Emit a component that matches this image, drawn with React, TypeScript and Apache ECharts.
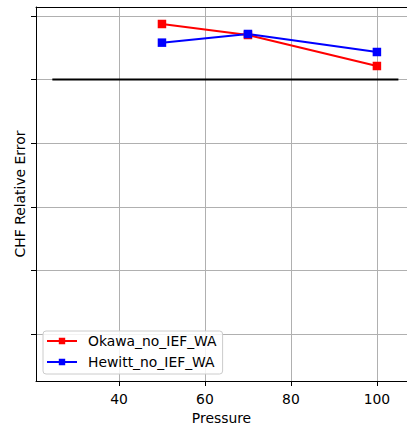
import React, { useEffect, useRef } from "react";
import * as echarts from "echarts";

const pressure = [50, 70, 100];
const okawa = [0.0873, 0.070, 0.0213];
const hewitt = [0.058, 0.0716, 0.0433];
const refLineX = [24.5, 105];
const refLineY = [0, 0];
const xTicks = [40, 60, 80, 100];
const yTicks = [-0.4, -0.3, -0.2, -0.1, 0, 0.1];

export default function App() {
  const ref = useRef<HTMLDivElement>(null);
  useEffect(() => {
    document.body.style.margin = "0";
    const chart = echarts.init(ref.current!, null, { renderer: "svg" });
    const font = "DejaVu Sans";
    const fs = 13.9;
    chart.setOption({
      animation: false,
      textStyle: { fontFamily: font },
      grid: { left: 36, right: 0, top: 7, bottom: 45, outerBoundsMode: "none", containLabel: false },
      xAxis: [
        {
          type: "value",
          min: 20.7,
          max: 107,
          axisLine: { show: true, onZero: false, lineStyle: { color: "#000", width: 1 } },
          axisTick: { show: true, customValues: xTicks, length: 5, lineStyle: { color: "#000" } },
          axisLabel: { customValues: xTicks, fontSize: fs, color: "#000", margin: 11, fontFamily: font },
          splitLine: { show: true, lineStyle: { color: "#b0b0b0", width: 1 } },
          name: "Pressure",
          nameLocation: "middle",
          nameGap: 30,
          nameTextStyle: { fontSize: fs, lineHeight: 14, color: "#000", fontFamily: font },
        },
        {
          type: "value",
          position: "top",
          min: 20.7,
          max: 107,
          axisLine: { show: true, onZero: false, lineStyle: { color: "#000", width: 1 } },
          axisTick: { show: false },
          axisLabel: { show: false },
          splitLine: { show: false },
        },
      ],
      yAxis: {
        type: "value",
        min: -0.4736,
        max: 0.114,
        axisLine: { show: true, onZero: false, lineStyle: { color: "#000", width: 1 } },
        axisTick: { show: true, customValues: yTicks, length: 5, lineStyle: { color: "#000" } },
        axisLabel: { show: false, customValues: yTicks },
        splitLine: { show: true, lineStyle: { color: "#b0b0b0", width: 1 } },
        name: "CHF Relative Error",
        nameLocation: "middle",
        nameGap: 9,
        nameTextStyle: { fontSize: fs, color: "#000", fontFamily: font },
      },
      legend: {
        orient: "vertical",
        left: 43,
        top: 331,
        padding: [2, 6, 4, 3],
        itemWidth: 30,
        itemHeight: 8,
        itemGap: 5,
        backgroundColor: "rgba(255,255,255,0.85)",
        borderColor: "#cccccc",
        borderWidth: 1,
        borderRadius: 3,
        textStyle: { fontSize: fs, color: "#000", fontFamily: font, lineHeight: 16, padding: [0, 0, 0, 6] },
        data: ["Okawa_no_IEF_WA", "Hewitt_no_IEF_WA"],
      },
      series: [
        {
          name: "Okawa_no_IEF_WA",
          type: "line",
          data: pressure.map((p, i) => [p, okawa[i]]),
          color: "#ff0000",
          symbol: "rect",
          symbolSize: 8.5,
          lineStyle: { width: 2, color: "#ff0000" },
          itemStyle: { color: "#ff0000" },
        },
        {
          name: "Hewitt_no_IEF_WA",
          type: "line",
          data: pressure.map((p, i) => [p, hewitt[i]]),
          color: "#0000ff",
          symbol: "rect",
          symbolSize: 8.5,
          lineStyle: { width: 2, color: "#0000ff" },
          itemStyle: { color: "#0000ff" },
        },
        {
          name: "zero",
          type: "line",
          data: refLineX.map((x, i) => [x, refLineY[i]]),
          symbol: "none",
          lineStyle: { width: 2, color: "#000" },
          silent: true,
        },
      ],
    });
    return () => chart.dispose();
  }, []);
  return <div ref={ref} style={{ width: 407, height: 426 }} />;
}
